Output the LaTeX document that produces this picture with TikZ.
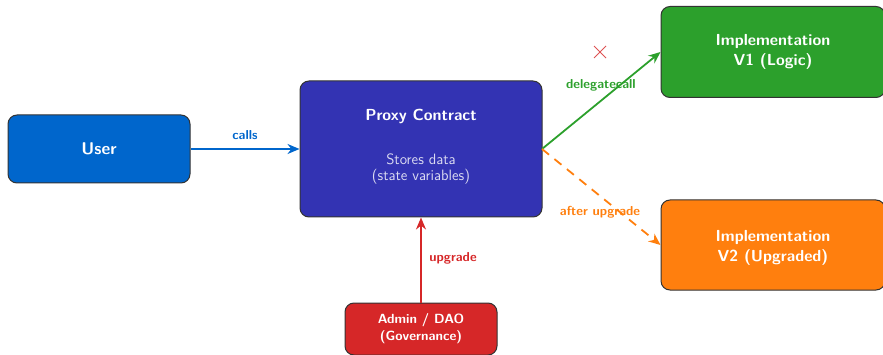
\documentclass[tikz,border=0pt]{standalone}
\usetikzlibrary{arrows.meta}
\definecolor{userblue}{HTML}{0066CC}
\definecolor{proxyblue}{HTML}{3333B3}
\definecolor{implgreen}{HTML}{2CA02C}
\definecolor{imploranget}{HTML}{FF7F0E}
\definecolor{adminred}{HTML}{D62728}
\definecolor{edgegray}{HTML}{333333}
\tikzset{
  box/.style={draw=edgegray, line width=1pt, rounded corners=9pt, text=white,
    font=\sffamily\bfseries\fontsize{16}{20}\selectfont, align=center, inner sep=0pt},
  conn/.style={line width=1.8pt, -{Stealth[length=12pt,width=10pt]}},
  lbl/.style={font=\sffamily\bfseries\fontsize{13}{15}\selectfont}
}
\begin{document}
\begin{tikzpicture}[x=1pt,y=-1pt]
\useasboundingbox (0,0) rectangle (883,355);
% boxes
\node[box, fill=userblue, minimum width=182pt, minimum height=68pt, font=\sffamily\bfseries\fontsize{17}{20}\selectfont] (user) at (99,149) {User};
\node[box, fill=proxyblue, minimum width=242pt, minimum height=136pt] (proxy) at (421,149) {};
\node[text=white, font=\sffamily\bfseries\fontsize{16}{20}\selectfont] (ptitle) at (421,116) {Proxy Contract};
\node[text=white!82!proxyblue, font=\sffamily\fontsize{15}{16.5}\selectfont, align=center] (pnote) at (421,169) {Stores data\\(state variables)};
\node[box, fill=implgreen, minimum width=224pt, minimum height=91pt] (v1) at (773,52) {Implementation\\V1 (Logic)};
\node[box, fill=imploranget, minimum width=224pt, minimum height=90pt, text depth=0pt] (v2) at (773,245) {\raisebox{-2pt}{\shortstack{Implementation\\[2pt]V2 (Upgraded)}}};
\node[box, fill=adminred, minimum width=152pt, minimum height=52pt, font=\sffamily\bfseries\fontsize{13.3}{17}\selectfont] (admin) at (421,329) {Admin / DAO\\(Governance)};
% connectors
\draw[conn, userblue] (user.east) -- (proxy.west);
\node[lbl, text=userblue] (lcalls) at (245,135) {calls};
\coordinate (pout) at (542,149);
\draw[conn, implgreen] (pout) -- (v1.west);
\node[lbl, text=implgreen] (ldel) at (601,85) {delegatecall};
\draw[conn, imploranget, dash pattern=on 9pt off 7pt] (pout) -- (v2.west);
\node[lbl, text=imploranget] (lafter) at (600,212) {after upgrade};
\draw[conn, adminred] (admin.north) -- (proxy.south);
\node[lbl, text=adminred] (lupg) at (453,258) {upgrade};
% cross mark
\coordinate (xm) at (600,52);
\draw[adminred!80, line width=0.9pt] ([shift={(-6,-6)}]xm) -- ([shift={(6,6)}]xm)
  ([shift={(-6,6)}]xm) -- ([shift={(6,-6)}]xm);
\end{tikzpicture}
\end{document}
